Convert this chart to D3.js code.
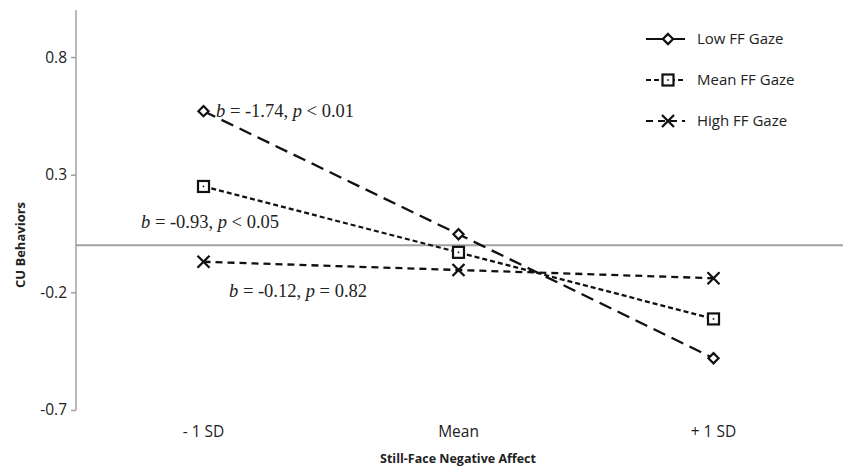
<!DOCTYPE html>
<html><head><meta charset="utf-8">
<script src="https://cdn.jsdelivr.net/npm/d3@7"></script>
<style>body{margin:0;background:#fff}svg{display:block}</style>
</head><body>
<script>
const categories = ["- 1 SD", "Mean", "+ 1 SD"];
const lowFF = [0.57, 0.047, -0.48];
const meanFF = [0.25, -0.03, -0.313];
const highFF = [-0.07, -0.105, -0.14];
const yTicks = [0.8, 0.3, -0.2, -0.7];
const seriesNames = ["Low FF Gaze", "Mean FF Gaze", "High FF Gaze"];
const annotations = [
  {b: "-1.74", p: "< 0.01"},
  {b: "-0.93", p: "< 0.05"},
  {b: "-0.12", p: "= 0.82"}
];

const W = 843, H = 468;
const svg = d3.select("body").append("svg").attr("width", W).attr("height", H);

const x = d3.scaleBand().domain(categories).range([76, 841]);
const y = d3.scaleLinear().domain([-0.7, 1.0]).range([410, 10]);
const cx = c => x(c) + x.bandwidth() / 2;

const grey = "#a0a0a0";
const sans = "Open Sans, sans-serif";
// y axis
const yAxis = d3.axisLeft(y).tickValues(yTicks).tickSize(5).tickFormat(d => d.toFixed(1));
const ga = svg.append("g").attr("transform", "translate(76,0)").call(yAxis);
ga.select(".domain").attr("stroke", grey).attr("stroke-width", 1.5).attr("d", "M0,10V410");
ga.selectAll(".tick line").attr("stroke", grey).attr("stroke-width", 1.5);
ga.selectAll(".tick text").attr("font-family", sans).attr("font-size", 15.5).attr("fill", "#222").attr("x", -9);

// zero line
svg.append("line").attr("x1", 76).attr("x2", 843).attr("y1", y(0)).attr("y2", y(0))
  .attr("stroke", grey).attr("stroke-width", 2);

// x axis labels
const xAxis = d3.axisBottom(x).tickSize(0).tickPadding(0);
const gx = svg.append("g").attr("transform", "translate(0,426)").call(xAxis);
gx.select(".domain").remove();
gx.selectAll(".tick text").attr("font-family", sans).attr("font-size", 15.5).attr("fill", "#222");

svg.append("text").attr("x", 458).attr("y", 463).attr("text-anchor", "middle")
  .attr("font-family", sans).attr("font-weight", "bold").attr("font-size", 12.5).attr("fill", "#222")
  .text("Still-Face Negative Affect");
svg.append("text").attr("transform", "translate(25,245) rotate(-90)").attr("text-anchor", "middle")
  .attr("font-family", sans).attr("font-weight", "bold").attr("font-size", 13).attr("fill", "#222")
  .text("CU Behaviors");

const series = [
  {name: seriesNames[0], vals: lowFF, dash: "13,7", legDash: null, marker: "diamond"},
  {name: seriesNames[1], vals: meanFF, dash: "5,3", legDash: "5,3", marker: "square"},
  {name: seriesNames[2], vals: highFF, dash: "7,5", legDash: "7,5", marker: "x"}
];

function drawMarker(g, type, px, py) {
  if (type === "diamond") {
    g.append("path").attr("d", d3.symbol(d3.symbolDiamond2, 66)())
      .attr("transform", `translate(${px},${py})`)
      .attr("fill", "#fff").attr("stroke", "#111").attr("stroke-width", 2.2);
  } else if (type === "square") {
    g.append("rect").attr("x", px - 5.5).attr("y", py - 5.5).attr("width", 11).attr("height", 11)
      .attr("fill", "#fff").attr("stroke", "#111").attr("stroke-width", 2.2);
    g.append("rect").attr("x", px - 0.8).attr("y", py - 0.8).attr("width", 1.6).attr("height", 1.6).attr("fill", "#111");
  } else {
    g.append("path").attr("d", `M${px-6},${py-6}L${px+6},${py+6}M${px-6},${py+6}L${px+6},${py-6}`)
      .attr("stroke", "#111").attr("stroke-width", 2.3).attr("fill", "none");
  }
}

const line = d3.line().x((d, i) => cx(categories[i])).y(d => y(d));
series.forEach(s => {
  svg.append("path").datum(s.vals).attr("d", line).attr("fill", "none")
    .attr("stroke", "#111").attr("stroke-width", 2.3).attr("stroke-dasharray", s.dash);
});
series.forEach(s => {
  const g = svg.append("g");
  s.vals.forEach((v, i) => drawMarker(g, s.marker, cx(categories[i]), y(v)));
});

// annotations
const annPos = [[216, 117], [141, 228], [229, 297]];
annotations.forEach((a, i) => {
  const t = svg.append("text").attr("x", annPos[i][0]).attr("y", annPos[i][1])
    .attr("font-family", "Liberation Serif, Times New Roman, serif").attr("font-size", 18.5).attr("fill", "#222");
  t.append("tspan").attr("font-style", "italic").text("b");
  t.append("tspan").text(` = ${a.b}, `);
  t.append("tspan").attr("font-style", "italic").text("p");
  t.append("tspan").text(` ${a.p}`);
});

// legend
const legY = [39, 80, 121];
series.forEach((s, i) => {
  const g = svg.append("g");
  g.append("line").attr("x1", 646).attr("x2", 685).attr("y1", legY[i]).attr("y2", legY[i])
    .attr("stroke", "#111").attr("stroke-width", 2).attr("stroke-dasharray", s.legDash);
  drawMarker(g, s.marker, 668, legY[i]);
  g.append("text").attr("x", 697).attr("y", legY[i]).attr("dy", "0.35em")
    .attr("font-family", sans).attr("font-size", 15).attr("fill", "#222").text(s.name);
});
</script>
</body></html>
